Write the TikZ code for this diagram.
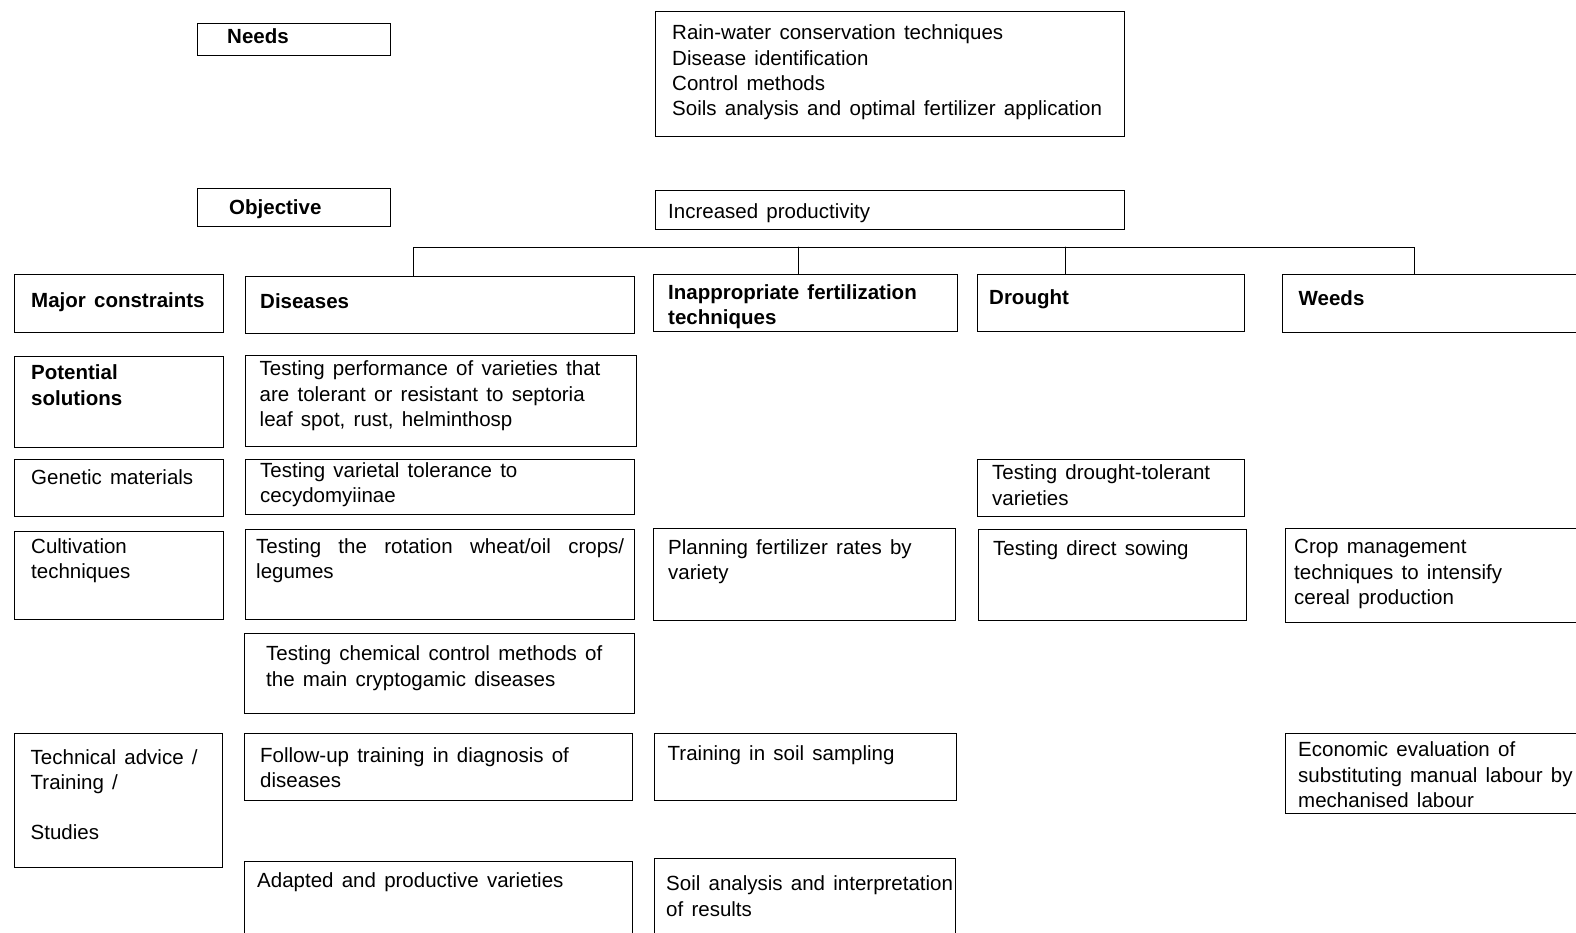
\documentclass[tikz,border=0pt]{standalone}
\usepackage{fontspec}
\setmainfont{Liberation Sans}[WordSpace=1.45]
\begin{document}
\begin{tikzpicture}
		[x=1pt,y=-1pt,line cap=round,
		%Styles
		cell/.style 2 args={draw,line width=1pt,anchor=north west,inner sep=0pt,minimum width=#1pt,minimum height=#2pt},
		txt/.style={anchor=north west,align=left,inner sep=0pt,font=\fontsize{20.5}{25.3}\selectfont},
		head/.style={txt,font=\fontsize{20.5}{25.3}\selectfont\bfseries},
		bus/.style={line width=1pt}
		]
		\useasboundingbox (0,0) rectangle (1576,932);
		
		%Needs and objective
		\node[cell={193}{32}] (need) at (197,23) {};
		\node[head] (need-t) at ([shift={(30,5.3)}]need.north west) {Needs};
		\node[cell={469}{125}] (nlist) at (655,11) {};
		\node[txt] (nlist-t) at ([shift={(17,13.8)}]nlist.north west) {Rain-water conservation techniques\\Disease identification\\Control methods\\Soils analysis and optimal fertilizer application};
		\node[cell={193}{38}] (obj) at (197,188) {};
		\node[head] (obj-t) at ([shift={(32,11.2)}]obj.north west) {Objective};
		\node[cell={469}{39}] (prod) at (655,190) {};
		\node[txt] (prod-t) at ([shift={(13,13.2)}]prod.north west) {Increased productivity};
		
		%Major constraints
		\node[cell={209}{58}] (maj) at (14,274) {};
		\node[head] (maj-t) at ([shift={(17,18.5)}]maj.north west) {Major constraints};
		\node[cell={389}{57}] (dis) at (245,276) {};
		\node[head] (dis-t) at ([shift={(15,17.5)}]dis.north west) {Diseases};
		\node[cell={304}{57}] (inf) at (653,274) {};
		\node[head] (inf-t) at ([shift={(15,10.5)}]inf.north west) {Inappropriate fertilization\\techniques};
		\node[cell={267}{57}] (dro) at (977,274) {};
		\node[head] (dro-t) at ([shift={(12,15.2)}]dro.north west) {Drought};
		\node[cell={318}{58}] (wds) at (1282,274) {};
		\node[head] (wds-t) at ([shift={(16.5,16.2)}]wds.north west) {Weeds};
		
		%Potential solutions
		\node[cell={209}{91}] (pot) at (14,356) {};
		\node[head] (pot-t) at ([shift={(17,8.8)}]pot.north west) {Potential\\solutions};
		\node[cell={391}{91}] (perf) at (245,355) {};
		\node[txt] (perf-t) at ([shift={(14.5,5.8)}]perf.north west) {Testing performance of varieties that\\are tolerant or resistant to septoria\\leaf spot, rust, helminthosp};
		
		%Genetic materials
		\node[cell={209}{57}] (gen) at (14,459) {};
		\node[txt] (gen-t) at ([shift={(17,10.2)}]gen.north west) {Genetic materials};
		\node[cell={389}{55}] (var) at (245,459) {};
		\node[txt] (var-t) at ([shift={(15,3.5)}]var.north west) {Testing varietal tolerance to\\cecydomyiinae};
		\node[cell={267}{57}] (dtol) at (977,459) {};
		\node[txt] (dtol-t) at ([shift={(15,5.8)}]dtol.north west) {Testing drought-tolerant\\varieties};
		
		%Cultivation techniques
		\node[cell={209}{88}] (cult) at (14,531) {};
		\node[txt] (cult-t) at ([shift={(17,7.5)}]cult.north west) {Cultivation\\techniques};
		\node[cell={389}{90}] (rot) at (245,529) {};
		\node[txt] (rot-t) at ([shift={(11,9.5)}]rot.north west) {\makebox[368pt][s]{Testing the rotation wheat/oil crops/}\\legumes};
		\node[cell={302}{92}] (plan) at (653,528) {};
		\node[txt] (plan-t) at ([shift={(15,11.2)}]plan.north west) {Planning fertilizer rates by\\variety};
		\node[cell={268}{91}] (sow) at (978,529) {};
		\node[txt] (sow-t) at ([shift={(15,11.8)}]sow.north west) {Testing direct sowing};
		\node[cell={315}{94}] (crop) at (1285,528) {};
		\node[txt] (crop-t) at ([shift={(9,11.2)}]crop.north west) {Crop management\\techniques to intensify\\cereal production};
		\node[cell={390}{80}] (chem) at (244,633) {};
		\node[txt] (chem-t) at ([shift={(22,12.8)}]chem.north west) {Testing chemical control methods of\\the main cryptogamic diseases};
		
		%Technical advice
		\node[cell={208}{134}] (tech) at (13.5,733) {};
		\node[txt] (tech-t) at ([shift={(17,16.2)}]tech.north west) {Technical advice /\\Training /\\[24.7pt]Studies};
		\node[cell={388}{67}] (fol) at (244,733) {};
		\node[txt] (fol-t) at ([shift={(16,14.5)}]fol.north west) {Follow-up training in diagnosis of\\diseases};
		\node[cell={302}{67}] (trs) at (654,733) {};
		\node[txt] (trs-t) at ([shift={(13.5,12.8)}]trs.north west) {Training in soil sampling};
		\node[cell={315}{80}] (eco) at (1285,733) {};
		\node[txt] (eco-t) at ([shift={(13,8.8)}]eco.north west) {Economic evaluation of\\substituting manual labour by\\mechanised labour};
		\node[cell={388}{100}] (adp) at (244,861) {};
		\node[txt] (adp-t) at ([shift={(13,11.5)}]adp.north west) {Adapted and productive varieties};
		\node[cell={301}{102}] (san) at (654,858) {};
		\node[txt] (san-t) at ([shift={(12,17.8)}]san.north west) {Soil analysis and interpretation\\of results};
		
		%Links to the constraints
		\coordinate (bus-l) at (413,247);
		\coordinate (bus-a) at (798,247);
		\coordinate (bus-b) at (1065,247);
		\coordinate (bus-r) at (1414,247);
		\draw[bus] (bus-l |- dis.north) -- (bus-l) -- (bus-r) -- (bus-r |- wds.north);
		\draw[bus] (bus-a) -- (bus-a |- inf.north);
		\draw[bus] (bus-b) -- (bus-b |- dro.north);
	\end{tikzpicture}
\end{document}
